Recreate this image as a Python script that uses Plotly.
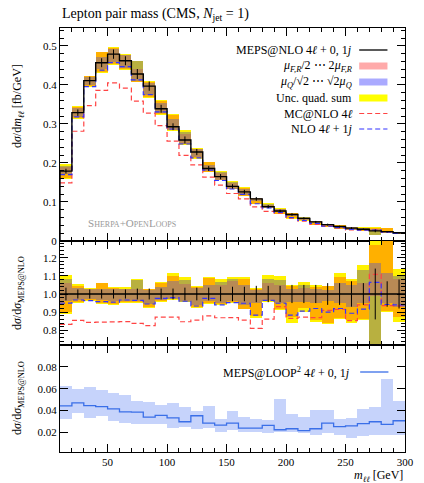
import plotly.graph_objects as go
from plotly.subplots import make_subplots

# ---------------- data ----------------
edges = [10 + 10 * i for i in range(30)]          # m_ll bin edges [GeV]
centers = [e + 5 for e in edges[:-1]]

# MEPS@NLO 4l+0,1j central value [fb/GeV]
meps_nlo = [0.179, 0.329, 0.411, 0.457, 0.479, 0.462, 0.428, 0.397, 0.339, 0.293,
            0.259, 0.228, 0.186, 0.165, 0.140, 0.126, 0.108, 0.088, 0.077, 0.068,
            0.058, 0.049, 0.042, 0.037, 0.033, 0.030, 0.026, 0.024, 0.021]
# relative statistical error of MEPS@NLO
stat_rel = [0.035, 0.025, 0.025, 0.025, 0.025, 0.025, 0.03, 0.03, 0.03, 0.03,
            0.035, 0.035, 0.035, 0.04, 0.04, 0.04, 0.045, 0.045, 0.045, 0.05,
            0.05, 0.05, 0.06, 0.06, 0.07, 0.06, 0.14, 0.07, 0.08]

# ratio bands (relative to MEPS@NLO)
quad_hi = [1.105, 1.055, 1.032, 1.06, 1.037, 1.036, 1.08, 1.03, 1.065, 1.115,
           1.095, 1.045, 1.095, 1.08, 1.095, 1.095, 1.032, 1.105, 1.10, 1.05,
           1.068, 1.05, 1.044, 1.114, 1.085, 1.16, 1.35, 1.35, 1.14]
quad_lo = [0.89, 0.95, 0.96, 0.945, 0.94, 0.95, 0.95, 0.925, 0.955, 0.965,
           0.955, 0.925, 0.945, 0.94, 0.95, 0.915, 0.87, 0.955, 0.91, 0.842,
           0.90, 0.848, 0.835, 0.86, 0.84, 0.855, 0.60, 0.90, 0.847]
muFR_hi = [1.06, 1.045, 1.028, 1.058, 1.033, 1.03, 1.03, 1.025, 1.06, 1.10,
           1.055, 1.04, 1.09, 1.05, 1.07, 1.085, 1.025, 1.06, 1.05, 1.045,
           1.031, 1.04, 1.042, 1.096, 1.07, 1.06, 1.27, 1.35, 1.08]
muFR_lo = [0.90, 0.955, 0.965, 0.95, 0.945, 0.955, 0.955, 0.93, 0.96, 0.97,
           0.96, 0.93, 0.95, 0.945, 0.955, 0.92, 0.88, 0.96, 0.915, 0.875,
           0.921, 0.857, 0.84, 0.866, 0.857, 0.86, 0.99, 0.905, 0.875]
muQ_hi = [1.08, 1.035, 1.025, 1.03, 1.028, 1.03, 1.077, 1.02, 1.04, 1.07,
          1.077, 1.035, 1.05, 1.065, 1.085, 1.05, 1.02, 1.085, 1.075, 1.03,
          1.05, 1.03, 1.02, 1.059, 1.05, 1.132, 1.17, 1.116, 1.10]
muQ_lo = [0.96, 0.965, 0.97, 0.965, 0.96, 0.96, 0.96, 0.945, 0.965, 0.975,
          0.958, 0.94, 0.96, 0.95, 0.96, 0.94, 0.95, 0.965, 0.95, 0.958,
          0.958, 0.95, 0.96, 0.95, 0.93, 0.95, 0.60, 0.949, 0.93]

# other predictions, ratio to MEPS@NLO
nlo_1j_ratio = [0.95, 0.967, 0.963, 0.958, 0.955, 0.967, 0.965, 0.945, 0.976, 0.98,
                0.96, 0.934, 0.976, 0.94, 0.952, 0.949, 0.884, 0.965, 0.949, 0.884,
                0.906, 0.92, 0.90, 0.92, 0.894, 0.917, 1.064, 0.943, 0.94]
mcnlo_ratio = [0.833, 0.855, 0.844, 0.845, 0.846, 0.848, 0.838, 0.826, 0.873, 0.873,
               0.847, 0.856, 0.879, 0.869, 0.87, 0.856, 0.811, 0.862, 0.93, 0.866,
               0.873, 0.87, 0.91, 0.915, 0.853, 0.94, 1.108, 0.936, 0.935]

# MEPS@LOOP2 4l+0,1j / MEPS@NLO
loop2 = [0.0442, 0.047, 0.0445, 0.0436, 0.0415, 0.0388, 0.0385, 0.034, 0.0355, 0.0333,
         0.0297, 0.0352, 0.0285, 0.0267, 0.0285, 0.0239, 0.0239, 0.0264, 0.0224, 0.0233,
         0.0215, 0.0233, 0.0285, 0.0252, 0.026, 0.0279, 0.0297, 0.0273, 0.0306]
loop2_hi = [0.0624, 0.0597, 0.0612, 0.0588, 0.0558, 0.054, 0.0485, 0.0479, 0.0448, 0.0467,
            0.0436, 0.0394, 0.0445, 0.0321, 0.040, 0.034, 0.0321, 0.0315, 0.0503, 0.037,
            0.034, 0.0409, 0.0406, 0.0321, 0.0327, 0.0412, 0.0436, 0.0688, 0.0488]
loop2_lo = [0.0321, 0.0373, 0.0336, 0.0348, 0.0303, 0.0288, 0.0273, 0.0273, 0.0273, 0.0236,
            0.0248, 0.0233, 0.0236, 0.0206, 0.0218, 0.0206, 0.0203, 0.0197, 0.0203, 0.0203,
            0.0191, 0.0173, 0.0194, 0.0179, 0.0148, 0.017, 0.0173, 0.0173, 0.0173]

# ---------------- styles ----------------
FONT = "Liberation Serif"
C_YEL = "#fff200"
C_ORA = "#ffb000"
C_OLI = "#b8b040"
C_BRO = "#b88a55"
C_PINK = "#ffaaaa"
C_LBLU = "#aaaaff"
C_RED = "#ff4444"
C_BLU = "#3333ff"
C_L2 = "#3a6fe8"
C_L2B = "#c6d3fb"
DASH = "5px,3px"

fig = make_subplots(rows=3, cols=1, shared_xaxes=True, vertical_spacing=0,
                    row_heights=[213, 104, 107])


def step(vals):
    return list(vals) + [vals[-1]]


def add_bands(row, scale):
    n = len(centers)
    s = scale
    lo_i = [max(muFR_lo[i], muQ_lo[i]) for i in range(n)]
    hi_i = [min(muFR_hi[i], muQ_hi[i]) for i in range(n)]
    for lo, hi, col in [(quad_lo, quad_hi, C_YEL), (muFR_lo, muFR_hi, C_ORA),
                        (muQ_lo, muQ_hi, C_OLI), (lo_i, hi_i, C_BRO)]:
        base = [lo[i] * s[i] for i in range(n)]
        height = [(hi[i] - lo[i]) * s[i] for i in range(n)]
        fig.add_trace(go.Bar(x=centers, y=height, base=base, width=10,
                             marker=dict(color=col, line=dict(width=0)),
                             showlegend=False, hoverinfo="skip"), row=row, col=1)


# ---- main panel ----
add_bands(1, meps_nlo)
fig.add_trace(go.Scatter(x=edges, y=step([meps_nlo[i] * mcnlo_ratio[i] for i in range(len(centers))]),
                         mode="lines", line=dict(shape="hv", color=C_RED, width=1.2, dash=DASH),
                         showlegend=False), row=1, col=1)
fig.add_trace(go.Scatter(x=edges, y=step([meps_nlo[i] * nlo_1j_ratio[i] for i in range(len(centers))]),
                         mode="lines", line=dict(shape="hv", color=C_BLU, width=1.2, dash=DASH),
                         showlegend=False), row=1, col=1)
fig.add_trace(go.Scatter(x=[edges[0]] + edges, y=[0] + step(meps_nlo),
                         mode="lines", line=dict(shape="hv", color="black", width=1.4),
                         showlegend=False), row=1, col=1)
fig.add_trace(go.Scatter(x=centers, y=meps_nlo, mode="markers", marker=dict(size=1, color="black"),
                         error_y=dict(type="data", array=[meps_nlo[i] * stat_rel[i] for i in range(len(centers))],
                                      width=0, thickness=1, color="black"),
                         showlegend=False), row=1, col=1)

# ---- ratio panel ----
ones = [1.0] * len(centers)
add_bands(2, ones)
fig.add_trace(go.Scatter(x=edges, y=step(mcnlo_ratio), mode="lines",
                         line=dict(shape="hv", color=C_RED, width=1.2, dash=DASH),
                         showlegend=False), row=2, col=1)
fig.add_trace(go.Scatter(x=edges, y=step(nlo_1j_ratio), mode="lines",
                         line=dict(shape="hv", color=C_BLU, width=1.2, dash=DASH),
                         showlegend=False), row=2, col=1)
fig.add_trace(go.Scatter(x=edges, y=step(ones), mode="lines",
                         line=dict(shape="hv", color="black", width=1.4), showlegend=False), row=2, col=1)
fig.add_trace(go.Scatter(x=centers, y=ones, mode="markers", marker=dict(size=1, color="black"),
                         error_y=dict(type="data", array=stat_rel, width=0, thickness=1, color="black"),
                         showlegend=False), row=2, col=1)

# ---- bottom panel ----
fig.add_trace(go.Bar(x=centers, y=[loop2_hi[i] - loop2_lo[i] for i in range(len(centers))],
                     base=loop2_lo, width=10, marker=dict(color=C_L2B, line=dict(width=0)),
                     showlegend=False), row=3, col=1)
fig.add_trace(go.Scatter(x=edges, y=step(loop2), mode="lines",
                         line=dict(shape="hv", color=C_L2, width=1.3), showlegend=False), row=3, col=1)

# ---------------- axes ----------------
common = dict(showline=True, linecolor="black", linewidth=1, mirror="allticks", ticks="inside",
              tickcolor="black", showgrid=False, zeroline=False,
              tickfont=dict(family=FONT, size=11, color="black"))
xr = [edges[0], edges[-1]]
for r in (1, 2, 3):
    fig.update_xaxes(range=xr, tick0=0, dtick=50, ticklen=8, tickwidth=1,
                     minor=dict(dtick=10, ticklen=4, ticks="inside", tickcolor="black", tickwidth=1),
                     showticklabels=(r == 3), row=r, col=1, **common)

fig.update_yaxes(range=[0, 0.546], tick0=0, dtick=0.1, ticklen=8, tickformat=".1~f",
                 minor=dict(dtick=0.02, ticklen=4, ticks="inside", tickcolor="black"),
                 row=1, col=1, **common)
fig.update_yaxes(range=[0.719, 1.292], tickvals=[0.8, 0.9, 1.0, 1.1, 1.2],
                 ticktext=["0.8", "0.9", "1.0", "1.1", "1.2"], ticklen=8,
                 minor=dict(dtick=0.02, tick0=0, ticklen=4, ticks="inside", tickcolor="black"),
                 row=2, col=1, **common)
fig.update_yaxes(range=[0.002, 0.1], tickvals=[0.02, 0.04, 0.06, 0.08], ticklen=8,
                 row=3, col=1, **common)

fig.update_layout(width=424, height=483, margin=dict(l=60, r=10, t=28, b=31),
                  plot_bgcolor="white", paper_bgcolor="white", barmode="overlay",
                  bargap=0, showlegend=False)

# ---------------- text ----------------
def px_x(p):
    return (p - 60) / 354.0


def px_y(p):
    return (452 - p) / 424.0


anns = []
tf = dict(family=FONT, size=12, color="black")
anns.append(dict(text="Lepton pair mass (CMS, <i>N</i><sub>jet</sub> = 1)", x=px_x(60), y=px_y(14),
                 xanchor="left", yanchor="middle", font=dict(family=FONT, size=14, color="black")))

leg = [("MEPS@NLO 4<i>ℓ</i> + 0, 1<i>j</i>", 50, "black", 1.3, "solid"),
       ("<i>μ<sub>F,R</sub></i>/2 ⋯ 2<i>μ<sub>F,R</sub></i>", 66, C_PINK, 7, "solid"),
       ("<i>μ<sub>Q</sub></i>/√2 ⋯ √2<i>μ<sub>Q</sub></i>", 82, C_LBLU, 7, "solid"),
       ("Unc. quad. sum", 98, "#ffff00", 7, "solid"),
       ("MC@NLO 4<i>ℓ</i>", 113.5, C_RED, 1.2, DASH),
       ("NLO 4<i>ℓ</i> + 1<i>j</i>", 129, C_BLU, 1.2, DASH)]
shapes = []
for txt, yp, col, w, dash in leg:
    anns.append(dict(text=txt, x=px_x(362), y=px_y(yp), xanchor="right", yanchor="middle", font=tf))
    shapes.append(dict(type="line", xref="paper", yref="paper", x0=px_x(367), x1=px_x(396),
                       y0=px_y(yp), y1=px_y(yp), line=dict(color=col, width=w, dash=dash)))

anns.append(dict(text="MEPS@LOOP<sup>2</sup> 4<i>ℓ</i> + 0, 1<i>j</i>", x=px_x(360), y=px_y(372),
                 xanchor="right", yanchor="middle", font=tf))
shapes.append(dict(type="line", xref="paper", yref="paper", x0=px_x(368), x1=px_x(397),
                   y0=px_y(372), y1=px_y(372), line=dict(color=C_L2, width=1.3)))

sc = "font-size:8px"
anns.append(dict(text=f"S<span style='{sc}'>HERPA</span>+O<span style='{sc}'>PEN</span>L<span style='{sc}'>OOPS</span>",
                 x=px_x(134), y=px_y(223), xanchor="center", yanchor="middle",
                 font=dict(family=FONT, size=11, color="#999999")))

# axis titles
anns.append(dict(text="d<i>σ</i>/d<i>m</i><sub><i>ℓℓ</i></sub> [fb/GeV]", x=px_x(17), y=px_y(106),
                 xanchor="center", yanchor="middle", textangle=-90, font=tf))
anns.append(dict(text="d<i>σ</i>/d<i>σ</i><sub>MEPS@NLO</sub>", x=px_x(17), y=px_y(293),
                 xanchor="center", yanchor="middle", textangle=-90, font=tf))
anns.append(dict(text="d<i>σ</i>/d<i>σ</i><sub>MEPS@NLO</sub>", x=px_x(17), y=px_y(398),
                 xanchor="center", yanchor="middle", textangle=-90, font=tf))
anns.append(dict(text="<i>m</i><sub><i>ℓℓ</i></sub> [GeV]", x=px_x(414), y=px_y(476),
                 xanchor="right", yanchor="middle", font=tf))

for a in anns:
    a.update(xref="paper", yref="paper", showarrow=False)
fig.update_layout(annotations=anns, shapes=shapes)

fig.write_html("out.html", post_script="document.body.style.margin='0px';",
               config={"displayModeBar": False})
